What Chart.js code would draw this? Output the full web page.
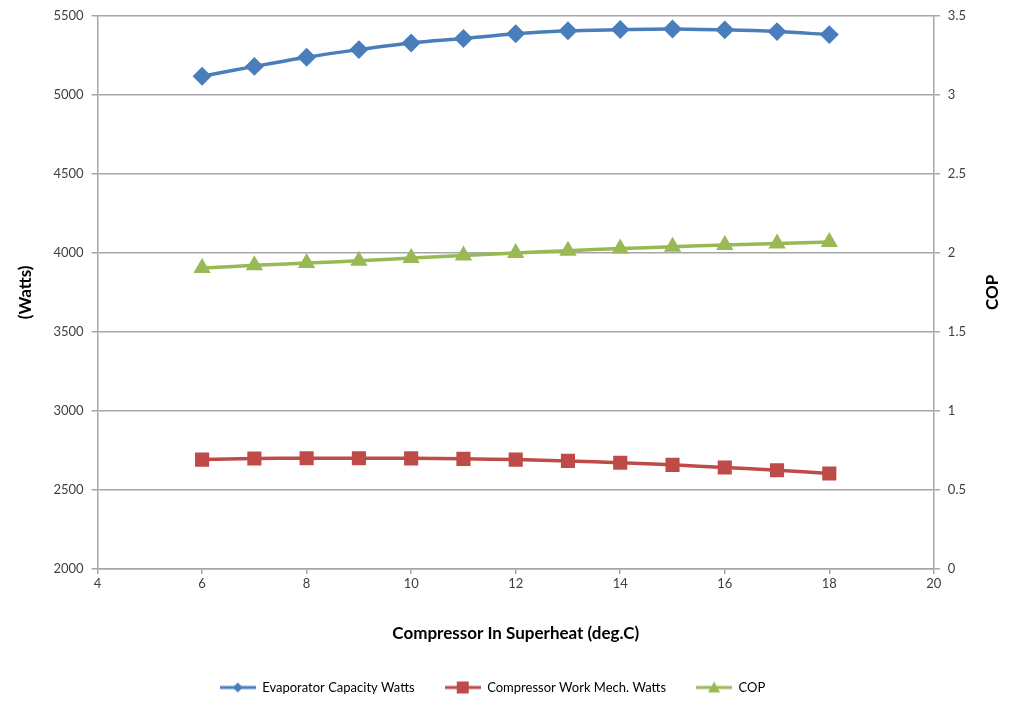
<!DOCTYPE html>
<html>
<head>
<meta charset="utf-8">
<script src="https://cdn.jsdelivr.net/npm/chart.js@4.4.0/dist/chart.umd.min.js"></script>
<style>
  body { margin: 0; background: #fff; }
  canvas { display: block; }
</style>
</head>
<body>
<canvas id="chart" width="1019" height="707"></canvas>
<script>
// Superheat values (deg.C)
const superheat = [6, 7, 8, 9, 10, 11, 12, 13, 14, 15, 16, 17, 18];

// Series
const evaporatorWatts = [5117, 5180, 5238, 5286, 5328, 5356, 5386, 5405, 5413, 5417, 5411, 5400, 5381];
const compressorWatts = [2692, 2699, 2701, 2701, 2700, 2697, 2692, 2684, 2672, 2659, 2642, 2625, 2604];
const cop = [1.904, 1.921, 1.936, 1.950, 1.968, 1.984, 1.999, 2.014, 2.027, 2.039, 2.050, 2.060, 2.069];

const seriesNames = ['Evaporator Capacity Watts', 'Compressor Work Mech. Watts', 'COP'];
const seriesColors = ['#4a7ebb', '#be4b48', '#98b954'];

const gridColor = '#a6a6a6';
const textColor = '#404040';
const fontFamily = 'Lato, "Open Sans", sans-serif';

// small line+marker icons for the legend
function legendIcon(color, shape) {
    const c = document.createElement('canvas');
    c.width = 36; c.height = 14;
    const g = c.getContext('2d');
    g.strokeStyle = color;
    g.lineWidth = 3;
    g.beginPath(); g.moveTo(0, 7); g.lineTo(36, 7); g.stroke();
    g.fillStyle = color;
    g.beginPath();
    if (shape === 'diamond') {
        g.moveTo(18, 2); g.lineTo(23, 7); g.lineTo(18, 12); g.lineTo(13, 7);
    } else if (shape === 'square') {
        g.rect(12, 1, 12, 12);
    } else {
        g.moveTo(18, 1); g.lineTo(24, 12); g.lineTo(12, 12);
    }
    g.closePath(); g.fill();
    return c;
}

const icons = [
    legendIcon(seriesColors[0], 'diamond'),
    legendIcon(seriesColors[1], 'square'),
    legendIcon(seriesColors[2], 'triangle')
];

function toPoints(values) {
    return superheat.map((x, i) => ({ x: x, y: values[i] }));
}

// right axis title, written bottom-to-top like the left one
const copTitle = {
    id: 'copTitle',
    afterDraw(chart) {
        const ctx = chart.ctx;
        const area = chart.chartArea;
        ctx.save();
        ctx.translate(993, (area.top + area.bottom) / 2);
        ctx.rotate(-Math.PI / 2);
        ctx.fillStyle = '#000';
        ctx.font = 'bold 17px ' + fontFamily;
        ctx.textAlign = 'center';
        ctx.textBaseline = 'middle';
        ctx.fillText('COP', 0, 0);
        ctx.restore();
    }
};

const tickFont = { family: fontFamily, size: 13 };
const plainLabel = value => String(value);

new Chart(document.getElementById('chart'), {
    type: 'line',
    data: {
        datasets: [{
            label: seriesNames[0],
            data: toPoints(evaporatorWatts),
            yAxisID: 'y',
            borderColor: seriesColors[0],
            backgroundColor: seriesColors[0],
            borderWidth: 3.5,
            pointStyle: 'rectRot',
            pointRadius: 7,
            tension: 0.3
        }, {
            label: seriesNames[1],
            data: toPoints(compressorWatts),
            yAxisID: 'y',
            borderColor: seriesColors[1],
            backgroundColor: seriesColors[1],
            borderWidth: 3.5,
            pointStyle: 'rect',
            pointRadius: 7.5,
            tension: 0.3
        }, {
            label: seriesNames[2],
            data: toPoints(cop),
            yAxisID: 'y1',
            borderColor: seriesColors[2],
            backgroundColor: seriesColors[2],
            borderWidth: 3.5,
            pointStyle: 'triangle',
            pointRadius: 6.5,
            tension: 0.3
        }]
    },
    plugins: [copTitle],
    options: {
        responsive: false,
        animation: false,
        layout: { padding: { left: 11, right: 45, top: 15, bottom: 3 } },
        plugins: {
            tooltip: { enabled: false },
            legend: {
                position: 'bottom',
                labels: {
                    usePointStyle: true,
                    pointStyleWidth: 36,
                    boxWidth: 36,
                    boxHeight: 14,
                    padding: 30,
                    color: '#000',
                    font: { family: fontFamily, size: 13 },
                    generateLabels: chart => chart.data.datasets.map((ds, i) => ({
                        text: ds.label,
                        pointStyle: icons[i],
                        fillStyle: ds.backgroundColor,
                        strokeStyle: ds.borderColor,
                        lineWidth: 0,
                        datasetIndex: i,
                        fontColor: '#000'
                    }))
                }
            }
        },
        scales: {
            x: {
                type: 'linear',
                min: 4,
                max: 20,
                ticks: { stepSize: 2, color: textColor, font: tickFont, padding: 2, callback: plainLabel },
                grid: { drawOnChartArea: false, color: gridColor, tickLength: 5, lineWidth: 1.5 },
                border: { color: gridColor, width: 1.5 },
                title: {
                    display: true,
                    text: 'Compressor In Superheat (deg.C)',
                    color: '#000',
                    font: { family: fontFamily, size: 17, weight: 'bold' },
                    padding: { top: 30, bottom: 7 }
                }
            },
            y: {
                position: 'left',
                min: 2000,
                max: 5500,
                ticks: { stepSize: 500, color: textColor, font: tickFont, padding: 8, callback: plainLabel },
                grid: { color: gridColor, tickLength: 6, lineWidth: 1.5 },
                border: { color: gridColor, width: 1.5 },
                title: {
                    display: true,
                    text: '(Watts)',
                    color: '#000',
                    font: { family: fontFamily, size: 17, weight: 'bold' },
                    padding: { bottom: 10 }
                }
            },
            y1: {
                position: 'right',
                min: 0,
                max: 3.5,
                ticks: { stepSize: 0.5, color: textColor, font: tickFont, padding: 8, callback: plainLabel },
                grid: { drawOnChartArea: false, color: gridColor, tickLength: 6, lineWidth: 1.5 },
                border: { color: gridColor, width: 1.5 }
            }
        }
    }
});
</script>
</body>
</html>
